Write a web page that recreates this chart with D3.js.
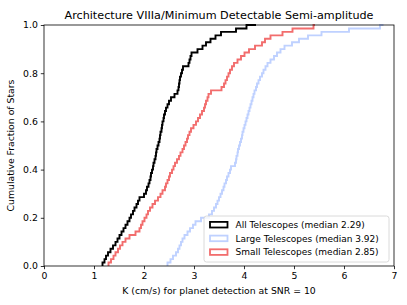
<!DOCTYPE html>
<html>
<head>
<meta charset="utf-8">
<script src="https://cdn.jsdelivr.net/npm/d3@7"></script>
<style>
  body { margin: 0; background: #fff; }
  svg { font-family: "DejaVu Sans", sans-serif; }
</style>
</head>
<body>
<script>
// sorted K values (cm/s) per star
var allTel = [1.17,1.21,1.24,1.28,1.33,1.38,1.43,1.47,1.51,1.55,1.59,1.63,1.67,1.71,1.74,1.78,1.81,1.85,1.88,1.91,
  2.00,2.04,2.06,2.09,2.11,2.13,2.14,2.16,2.18,2.19,2.21,2.23,2.24,2.25,2.27,2.29,2.31,2.32,2.33,2.35,
  2.36,2.37,2.39,2.40,2.42,2.44,2.47,2.50,2.54,2.61,2.67,2.69,2.70,2.71,2.72,2.74,2.76,2.78,2.89,2.91,
  2.93,2.95,3.07,3.17,3.24,3.33,3.43,3.54,3.84,4.05,4.24];
var largeTel = [2.47,2.53,2.58,2.64,2.68,2.71,2.74,2.77,2.81,2.87,2.92,2.98,3.03,3.14,3.30,3.36,3.40,3.44,3.47,3.50,
  3.53,3.56,3.59,3.61,3.64,3.66,3.69,3.72,3.74,3.82,3.84,3.85,3.87,3.88,3.90,3.92,3.94,3.96,3.97,3.99,
  4.01,4.03,4.05,4.07,4.09,4.11,4.13,4.15,4.17,4.19,4.21,4.24,4.26,4.29,4.32,4.36,4.39,4.43,4.47,4.53,
  4.60,4.66,4.73,4.81,4.96,5.10,5.28,5.55,6.10,6.72,6.79];
var smallTel = [1.29,1.34,1.39,1.43,1.48,1.52,1.57,1.63,1.71,1.83,1.91,1.94,1.97,2.01,2.05,2.08,2.12,2.17,2.22,2.28,
  2.33,2.37,2.42,2.44,2.47,2.50,2.52,2.56,2.59,2.62,2.66,2.70,2.73,2.77,2.80,2.83,2.86,2.88,2.91,2.94,
  2.99,3.04,3.08,3.12,3.16,3.20,3.22,3.24,3.27,3.29,3.34,3.55,3.60,3.63,3.66,3.69,3.72,3.76,3.80,3.87,
  3.94,4.01,4.10,4.22,4.36,4.42,4.53,4.77,4.97,5.39,5.42];

var seriesNames = ["All Telescopes (median 2.29)", "Large Telescopes (median 3.92)", "Small Telescopes (median 2.85)"];
var seriesColors = ["#000000", "#bfd1ff", "#f26d6d"];
var xTicks = [0,1,2,3,4,5,6,7];
var yTicks = [0,0.2,0.4,0.6,0.8,1.0];

var W = 407, H = 305;
var m = {left: 44, right: 13, top: 25, bottom: 39};

var svg = d3.select('body').append('svg').attr('width', W).attr('height', H);

var x = d3.scaleLinear().domain([0, 7]).range([m.left, W - m.right]);
var y = d3.scaleLinear().domain([0, 1]).range([H - m.bottom, m.top]);

var series = [allTel, largeTel, smallTel];

var line = d3.line()
    .x(function(d){ return x(d[0]); })
    .y(function(d){ return y(d[1]); })
    .curve(d3.curveStepBefore);

var order = [1, 2, 0];
order.forEach(function(k){
  var vals = series[k];
  var n = vals.length;
  var pts = vals.map(function(v, i){ return [v, i / (n - 1)]; });
  svg.append('path')
     .attr('d', line(pts))
     .attr('fill', 'none')
     .attr('stroke', seriesColors[k])
     .attr('stroke-width', 1.9);
});

// axes
var xAxis = d3.axisBottom(x).tickValues(xTicks).tickFormat(d3.format('d')).tickSizeOuter(0).tickSize(3.2).tickPadding(3);
var yAxis = d3.axisLeft(y).tickValues(yTicks).tickFormat(d3.format('.1f')).tickSizeOuter(0).tickSize(3.2).tickPadding(3);

var gx = svg.append('g').attr('transform', 'translate(0,' + (H - m.bottom) + ')').call(xAxis);
var gy = svg.append('g').attr('transform', 'translate(' + m.left + ',0)').call(yAxis);
[gx, gy].forEach(function(g){
  g.select('.domain').remove();
  g.selectAll('line').attr('stroke', '#000').attr('stroke-width', 0.8);
  g.selectAll('text').attr('font-size', '9.3px').attr('fill', '#000')
   .attr('font-family', 'DejaVu Sans');
});

// frame
svg.append('rect')
   .attr('x', x(0)).attr('y', y(1))
   .attr('width', x(7) - x(0)).attr('height', y(0) - y(1))
   .attr('fill', 'none').attr('stroke', '#000').attr('stroke-width', 0.8);

// title and labels
svg.append('text').attr('x', (x(0) + x(7)) / 2).attr('y', 19)
   .attr('text-anchor', 'middle').attr('font-size', '11.2px')
   .text('Architecture VIIIa/Minimum Detectable Semi-amplitude');

svg.append('text').attr('x', (x(0) + x(7)) / 2).attr('y', 294)
   .attr('text-anchor', 'middle').attr('font-size', '9.3px')
   .text('K (cm/s) for planet detection at SNR = 10');

svg.append('text')
   .attr('transform', 'translate(14,' + ((y(0) + y(1)) / 2) + ') rotate(-90)')
   .attr('text-anchor', 'middle').attr('font-size', '9.3px')
   .text('Cumulative Fraction of Stars');

// legend
var lg = svg.append('g').attr('transform', 'translate(204,216)');
lg.append('rect').attr('width', 185).attr('height', 46).attr('rx', 2.5)
  .attr('fill', '#fff').attr('fill-opacity', 0.8)
  .attr('stroke', '#d0d0d0').attr('stroke-width', 0.8);
seriesNames.forEach(function(name, i){
  var cy = 8.7 + i * 13.7;
  lg.append('rect').attr('x', 6).attr('y', cy - 2.8).attr('width', 17.5).attr('height', 5.6)
    .attr('fill', 'none').attr('stroke', seriesColors[i]).attr('stroke-width', 1.8);
  lg.append('text').attr('x', 31.5).attr('y', cy + 3.2).attr('font-size', '9px')
    .text(name);
});
</script>
</body>
</html>
